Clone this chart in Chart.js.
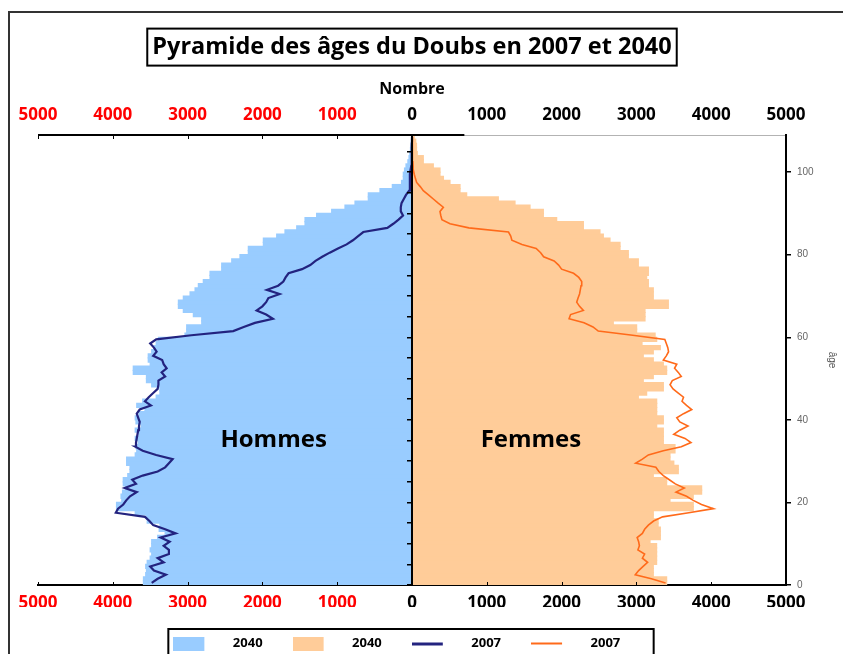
<!DOCTYPE html>
<html>
<head>
<meta charset="utf-8">
<script src="https://cdn.jsdelivr.net/npm/chart.js@4.4.1/dist/chart.umd.min.js"></script>
<style>
  html, body { margin: 0; padding: 0; background: #fff; overflow: hidden; }
  #wrap { position: relative; width: 843px; height: 654px; overflow: hidden; }
  #frame { position: absolute; left: 8px; top: 11px; width: 900px; height: 700px;
           border-top: 2px solid #333; border-left: 2px solid #333; }
  canvas { position: absolute; left: 0; top: 0; }
</style>
</head>
<body>
<div id="wrap">
  <div id="frame"></div>
  <canvas id="pyramid" width="843" height="660"></canvas>
</div>
<script>
const chartTitle = 'Pyramide des âges du Doubs en 2007 et 2040';
const axisTitle = 'Nombre';
const ageTitle = 'âge';
const seriesLabels = ['2040', '2040', '2007', '2007'];
const sideLabels = ['Hommes', 'Femmes'];

// ages 0..108, one value per age
const ages = Array.from({ length: 109 }, (_, i) => i);

const men2040 = [
  3590, 3590, 3560, 3550, 3560, 3540, 3500, 3480, 3500, 3480,
  3480, 3400, 3300, 3380, 3370, 3540, 3550, 3700, 3950, 3950,
  3880, 3890, 3870, 3830, 3860, 3860, 3800, 3770, 3770, 3815,
  3815, 3700, 3680, 3690, 3660, 3700, 3650, 3700, 3620, 3690,
  3700, 3650, 3570, 3680, 3600, 3420, 3370, 3370, 3480, 3550,
  3550, 3726, 3726, 3500, 3526, 3526, 3480, 3450, 3420, 3390,
  3035, 3012, 3012, 2811, 2811, 2923, 3057, 3123, 3123, 3057,
  2967, 2900, 2856, 2790, 2700, 2700, 2544, 2544, 2410, 2300,
  2188, 2188, 1987, 1987, 1809, 1698, 1541, 1430, 1430, 1275,
  1074, 896, 762, 584, 584, 428, 263, 140, 116, 116,
  100, 80, 55, 40, 30, 20, 15, 10, 5
];

const women2040 = [
  3404, 3404, 3226, 3226, 3226, 3270, 3270, 3270, 3270, 3270,
  3182, 3320, 3320, 3320, 3290, 3290, 3226, 3226, 3760, 3760,
  3449, 3760, 3872, 3872, 3404, 3404, 3226, 3560, 3560, 3500,
  3449, 3449, 3516, 3516, 3360, 3360, 3360, 3360, 3271, 3360,
  3360, 3271, 3271, 3271, 3271, 3026, 3137, 3360, 3360, 3092,
  3226, 3404, 3404, 3360, 3226, 3092, 3226, 3320, 3075, 3271,
  3250, 3003, 3003, 2691, 3115, 3115, 3115, 3427, 3427, 3226,
  3226, 3226, 3160, 3160, 3137, 3160, 3160, 3026, 3026, 2892,
  2892, 2781, 2781, 2647, 2558, 2513, 2291, 2291, 1934, 1756,
  1756, 1578, 1377, 1154, 731, 642, 642, 508, 420, 374,
  374, 285, 151, 151, 70, 60, 60, 50, 30
];

const men2007 = [
  3480, 3400, 3290, 3450, 3500, 3320, 3400, 3250, 3250, 3320,
  3240, 3360, 3160, 3300, 3460, 3510, 3570, 3960, 3930, 3860,
  3820, 3770, 3680, 3840, 3690, 3740, 3600, 3400, 3300, 3250,
  3200, 3420, 3600, 3700, 3690, 3680, 3670, 3660, 3650, 3640,
  3660, 3680, 3640, 3490, 3570, 3520, 3460, 3400, 3390, 3390,
  3300, 3347, 3280, 3320, 3340, 3460, 3414, 3450, 3500, 3420,
  2950, 2390, 2250, 2100, 1860, 1950, 2077, 2000, 1950, 1920,
  1770, 1940, 1790, 1720, 1690, 1650, 1470, 1360, 1290, 1200,
  1100, 990, 874, 790, 720, 651, 330, 250, 180, 120,
  150, 150, 140, 110, 80, 40, 30, 30, 27, 27,
  20, 10, 8, 5, 3, 2, 1, 0, 0
];

const women2007 = [
  3390, 3200, 2985, 3030, 3090, 3150, 3080, 3110, 3020, 3040,
  3030, 3010, 3080, 3110, 3160, 3230, 3350, 3700, 4030, 3870,
  3760, 3670, 3530, 3640, 3520, 3440, 3360, 3300, 3260, 2990,
  3080, 3160, 3360, 3600, 3730, 3650, 3500, 3580, 3690, 3580,
  3540, 3630, 3740, 3670, 3610, 3630, 3560, 3490, 3450, 3480,
  3600, 3560, 3510, 3540, 3360, 3400, 3430, 3420, 3400, 3380,
  2950, 2490, 2420, 2300, 2100, 2120, 2291, 2240, 2202, 2220,
  2240, 2250, 2260, 2269, 2230, 2160, 2000, 1960, 1900, 1760,
  1720, 1660, 1470, 1335, 1320, 1290, 760, 508, 400, 385,
  374, 419, 350, 285, 220, 151, 110, 62, 45, 30,
  18, 15, 12, 10, 8, 5, 5, 5, 0
];

const FONT = 'Open Sans';
Chart.defaults.font.family = FONT;
Chart.defaults.color = '#000';

const TITLE_PAD_TOP = 33, TITLE_SIZE = 23.5, TITLE_PAD_BOTTOM = 5;
const TITLE_H = TITLE_PAD_TOP + TITLE_SIZE * 1.2 + TITLE_PAD_BOTTOM;
const PLOT_TOP = 135, PLOT_BOTTOM = 585, CANVAS_H = 660;
const LEGEND_FONT = 13, LEGEND_PAD = 30;
const LEGEND_H = LEGEND_FONT + LEGEND_PAD + 10;

const toPoints = (vals, sign) => vals.map((v, i) => ({ x: sign * v, y: ages[i] + 0.5 }));

function swatch(color, kind) {
  const c = document.createElement('canvas');
  c.width = 53;
  c.height = 14;
  const g = c.getContext('2d');
  g.fillStyle = color;
  if (kind === 'bar') g.fillRect(0, 0, 31, 14);
  else g.fillRect(0, 6, 31, kind === 'thick' ? 3 : 2);
  return c;
}
const swatches = [
  swatch('#99ccff', 'bar'),
  swatch('#ffcc99', 'bar'),
  swatch('#23237f', 'thick'),
  swatch('#ff6a1a', 'thin')
];

const xTicks = pad => ({
  stepSize: 1000,
  padding: pad,
  autoSkip: false,
  maxRotation: 0,
  font: { size: 17, weight: 'bold' },
  color: c => (c.tick && c.tick.value < 0 ? '#ff0000' : '#000000'),
  callback: v => Math.abs(v)
});

const decor = {
  id: 'decor',
  afterDatasetsDraw(chart) {
    const { ctx, scales: { x, y } } = chart;
    ctx.save();
    ctx.font = 'bold 24px "' + FONT + '"';
    ctx.fillStyle = '#000';
    ctx.textAlign = 'center';
    ctx.textBaseline = 'middle';
    const labelX = [-1850, 1590];
    sideLabels.forEach((t, i) => ctx.fillText(t, x.getPixelForValue(labelX[i]), y.getPixelForValue(35.2)));
    ctx.restore();
  },
  afterDraw(chart) {
    const { ctx, scales: { x, x2 } } = chart;
    ctx.save();
    // box round the title
    const tb = chart.titleBlock;
    ctx.font = 'bold ' + TITLE_SIZE + 'px "' + FONT + '"';
    const w = ctx.measureText(chartTitle).width;
    const cx = (tb.left + tb.right) / 2;
    const cy = tb.top + TITLE_PAD_TOP + TITLE_SIZE * 0.6;
    ctx.strokeStyle = '#000';
    ctx.lineWidth = 2;
    ctx.strokeRect(cx - w / 2 - 5, cy - 18.5, w + 10, 37);

    // black part of the top axis, with its ticks
    const yTop = x2.bottom;
    ctx.lineWidth = 2;
    ctx.beginPath();
    ctx.moveTo(x2.getPixelForValue(-5000), yTop);
    ctx.lineTo(x2.getPixelForValue(700), yTop);
    ctx.stroke();
    ctx.lineWidth = 1;
    x2.ticks.filter(t => t.value <= 0).forEach(t => {
      const px = Math.round(x2.getPixelForValue(t.value)) + 0.5;
      ctx.beginPath();
      ctx.moveTo(px, yTop);
      ctx.lineTo(px, yTop + 4);
      ctx.stroke();
    });
    // small inner ticks on the bottom axis
    x.ticks.forEach(t => {
      const px = Math.round(x.getPixelForValue(t.value)) + 0.5;
      ctx.beginPath();
      ctx.moveTo(px, x.top);
      ctx.lineTo(px, x.top - 3);
      ctx.stroke();
    });

    // frame round the legend
    const hb = chart.legend.legendHitBoxes;
    if (hb && hb.length) {
      const last = hb[hb.length - 1];
      const left = hb[0].left - 5;
      const right = last.left + last.width + 3;
      const top = hb[0].top - 8;
      ctx.lineWidth = 2;
      ctx.strokeRect(left, top, right - left, chart.height - top + 5);
    }
    ctx.restore();
  }
};

new Chart(document.getElementById('pyramid'), {
  type: 'bar',
  data: {
    datasets: [
      {
        type: 'bar', label: seriesLabels[0], data: toPoints(men2040, -1), order: 2,
        backgroundColor: '#99ccff', grouped: false,
        barPercentage: 1, categoryPercentage: 1, inflateAmount: 0.6
      },
      {
        type: 'bar', label: seriesLabels[1], data: toPoints(women2040, 1), order: 2,
        backgroundColor: '#ffcc99', grouped: false,
        barPercentage: 1, categoryPercentage: 1, inflateAmount: 0.6
      },
      {
        type: 'line', label: seriesLabels[2], data: toPoints(men2007, -1), indexAxis: 'y', order: 1,
        borderColor: '#23237f', borderWidth: 2.2, pointRadius: 0, tension: 0, fill: false
      },
      {
        type: 'line', label: seriesLabels[3], data: toPoints(women2007, 1), indexAxis: 'y', order: 0,
        borderColor: '#ff6a1a', borderWidth: 1.6, pointRadius: 0, tension: 0, fill: false
      }
    ]
  },
  options: {
    indexAxis: 'y',
    responsive: false,
    animation: false,
    layout: { padding: { left: 38, right: 0, top: 0, bottom: 0 } },
    scales: {
      x: {
        type: 'linear', position: 'bottom', min: -5000, max: 5000,
        ticks: xTicks(8),
        grid: { drawOnChartArea: false, drawTicks: false },
        border: { color: '#000', width: 2 },
        afterFit: s => { s.height = CANVAS_H - PLOT_BOTTOM - LEGEND_H; }
      },
      x2: {
        type: 'linear', position: 'top', min: -5000, max: 5000,
        ticks: xTicks(10),
        grid: { drawOnChartArea: false, drawTicks: false },
        border: { color: '#b3b3b3', width: 1 },
        title: {
          display: true, text: axisTitle,
          font: { size: 16, weight: 'bold' }, padding: { top: 14, bottom: 0 }
        },
        afterFit: s => { s.height = PLOT_TOP - TITLE_H; }
      },
      y: {
        type: 'linear', position: 'right', min: 0, max: 109, offset: false,
        ticks: { stepSize: 20, padding: 6, color: '#666', font: { family: 'Liberation Sans', size: 10 } },
        afterBuildTicks: s => { s.ticks = s.ticks.filter(t => t.value % 20 === 0); },
        grid: { offset: false, drawOnChartArea: false, tickLength: 5, color: '#000', lineWidth: 1.5 },
        border: { color: '#000', width: 2 },
        title: {
          display: true, text: ageTitle, color: '#555',
          font: { family: 'Liberation Sans', size: 10 }, padding: { top: 5, bottom: 0 }
        },
        afterFit: s => { s.width = 57; }
      },
      yc: {
        type: 'linear', position: { x: 0 }, min: 0, max: 109, offset: false,
        ticks: { display: false, stepSize: 5 },
        afterBuildTicks: s => { s.ticks = s.ticks.filter(t => t.value % 5 === 0 && t.value < 109); },
        grid: { offset: false, drawOnChartArea: false, tickLength: 4, color: '#000', lineWidth: 1.5, z: 1 },
        border: { color: '#000', width: 2, z: 1 }
      }
    },
    plugins: {
      title: {
        display: true, text: chartTitle, fullSize: false, color: '#000',
        font: { size: TITLE_SIZE, weight: 'bold' },
        padding: { top: TITLE_PAD_TOP, bottom: TITLE_PAD_BOTTOM }
      },
      legend: {
        position: 'bottom',
        fullSize: false,
        labels: {
          usePointStyle: true,
          pointStyleWidth: 53,
          padding: LEGEND_PAD,
          color: '#000',
          font: { size: LEGEND_FONT, weight: 'bold' },
          // trailing blank after the last entry keeps the row off-centre as in the original
          generateLabels: chart => chart.data.datasets.map((ds, i, all) => ({
            text: i === all.length - 1 ? ds.label + ' '.repeat(9) : ds.label,
            pointStyle: swatches[i],
            datasetIndex: i,
            hidden: false,
            lineWidth: 0,
            fillStyle: 'rgba(0,0,0,0)',
            strokeStyle: 'rgba(0,0,0,0)',
            fontColor: '#000'
          }))
        }
      },
      tooltip: { enabled: false }
    }
  },
  plugins: [decor]
});
</script>
</body>
</html>
